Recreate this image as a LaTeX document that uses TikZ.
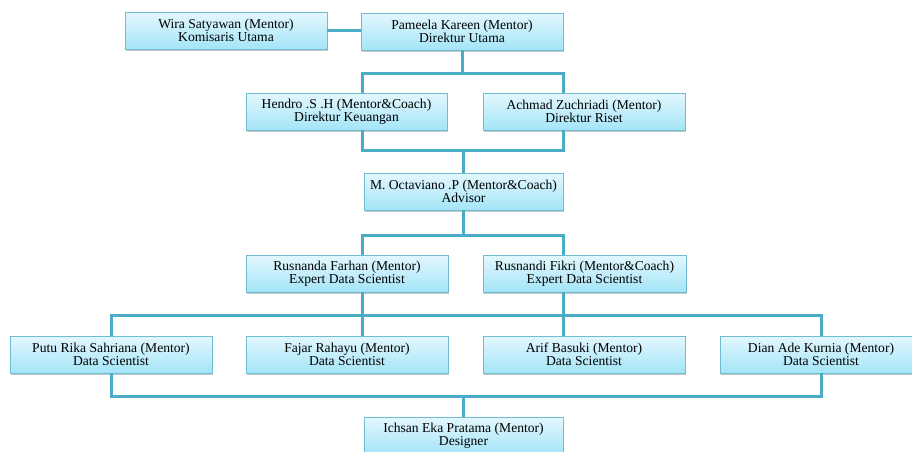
\documentclass[tikz,border=0pt]{standalone}
\usepackage{fontspec}
\setmainfont{Liberation Serif}
\usetikzlibrary{shadows}
\definecolor{conncol}{HTML}{4BACC6}
\definecolor{boxtop}{HTML}{E4F7FD}
\definecolor{boxbot}{HTML}{A3E5F8}
\definecolor{boxline}{HTML}{70BDD3}
\tikzset{
 orgbox/.style={rectangle, draw=boxline, line width=0.8pt, top color=boxtop, bottom color=boxbot,
   minimum width=202pt, minimum height=37pt, inner sep=0pt, align=center,
   font=\fontsize{13.6}{13.4}\selectfont,
   drop shadow={shadow xshift=1.2pt, shadow yshift=-1.8pt, opacity=0.3, fill=black!70}},
 narrowbox/.style={orgbox, minimum width=199pt},
 conn/.style={draw=conncol, line width=3pt}
}
\begin{document}
\begin{tikzpicture}[x=1pt,y=-1pt]
\fill[white] (0,0) rectangle (912,451);
\useasboundingbox (0,0) rectangle (912,451);
% coordinates for bus levels and vertical x positions
\coordinate (xL) at (362,0);
\coordinate (xR) at (563,0);
\coordinate (xM) at (463.5,0);
\coordinate (b1) at (0,73);
\coordinate (b2) at (0,150);
\coordinate (b3) at (0,235);
\coordinate (b4) at (0,315);
\coordinate (b5) at (0,396);
% nodes
\node[orgbox] (wira) at (226,30.5) {Wira Satyawan (Mentor)\\Komisaris Utama};
\node[orgbox] (pam) at (462,31.5) {Pameela Kareen (Mentor)\\Direktur Utama};
\node[orgbox, minimum width=201pt] (hen) at (346.5,111.5) {Hendro .S .H (Mentor\&Coach)\\Direktur Keuangan};
\node[orgbox] (ach) at (584,111.5) {Achmad Zuchriadi (Mentor)\\Direktur Riset};
\node[narrowbox] (oct) at (463.5,191.5) {M. Octaviano .P (Mentor\&Coach)\\Advisor};
\node[orgbox] (rsa) at (347,273.5) {Rusnanda Farhan (Mentor)\\Expert Data Scientist};
\node[orgbox, minimum width=203pt] (rsi) at (584.5,273.5) {Rusnandi Fikri (Mentor\&Coach)\\Expert Data Scientist};
\node[orgbox] (putu) at (111,354.5) {Putu Rika Sahriana (Mentor)\\Data Scientist};
\node[orgbox] (fajar) at (347,354.5) {Fajar Rahayu (Mentor)\\Data Scientist};
\node[orgbox] (arif) at (584,354.5) {Arif Basuki (Mentor)\\Data Scientist};
\node[orgbox] (dian) at (821,354.5) {Dian Ade Kurnia (Mentor)\\Data Scientist};
\node[narrowbox] (ich) at (463.5,435.5) {Ichsan Eka Pratama (Mentor)\\Designer};
% connectors
\draw[conn] (wira.east) -- (wira.east -| pam.west);
\draw[conn] (pam.south) -- (pam.south |- b1);
\draw[conn] (xL |- hen.north) -- (xL |- b1) -- (xR |- b1) -- (xR |- ach.north);
\draw[conn] (xL |- hen.south) -- (xL |- b2) -- (xR |- b2) -- (xR |- ach.south);
\draw[conn] (xM |- oct.north) -- (xM |- b2);
\draw[conn] (xM |- oct.south) -- (xM |- b3);
\draw[conn] (xL |- rsa.north) -- (xL |- b3) -- (xR |- b3) -- (xR |- rsi.north);
\draw[conn] (xL |- rsa.south) -- (xL |- fajar.north);
\draw[conn] (xR |- rsi.south) -- (xR |- arif.north);
\draw[conn] (putu.north) -- (putu.north |- b4) -- (dian.north |- b4) -- (dian.north);
\draw[conn] (putu.south) -- (putu.south |- b5) -- (dian.south |- b5) -- (dian.south);
\draw[conn] (xM |- ich.north) -- (xM |- b5);
\end{tikzpicture}
\end{document}
